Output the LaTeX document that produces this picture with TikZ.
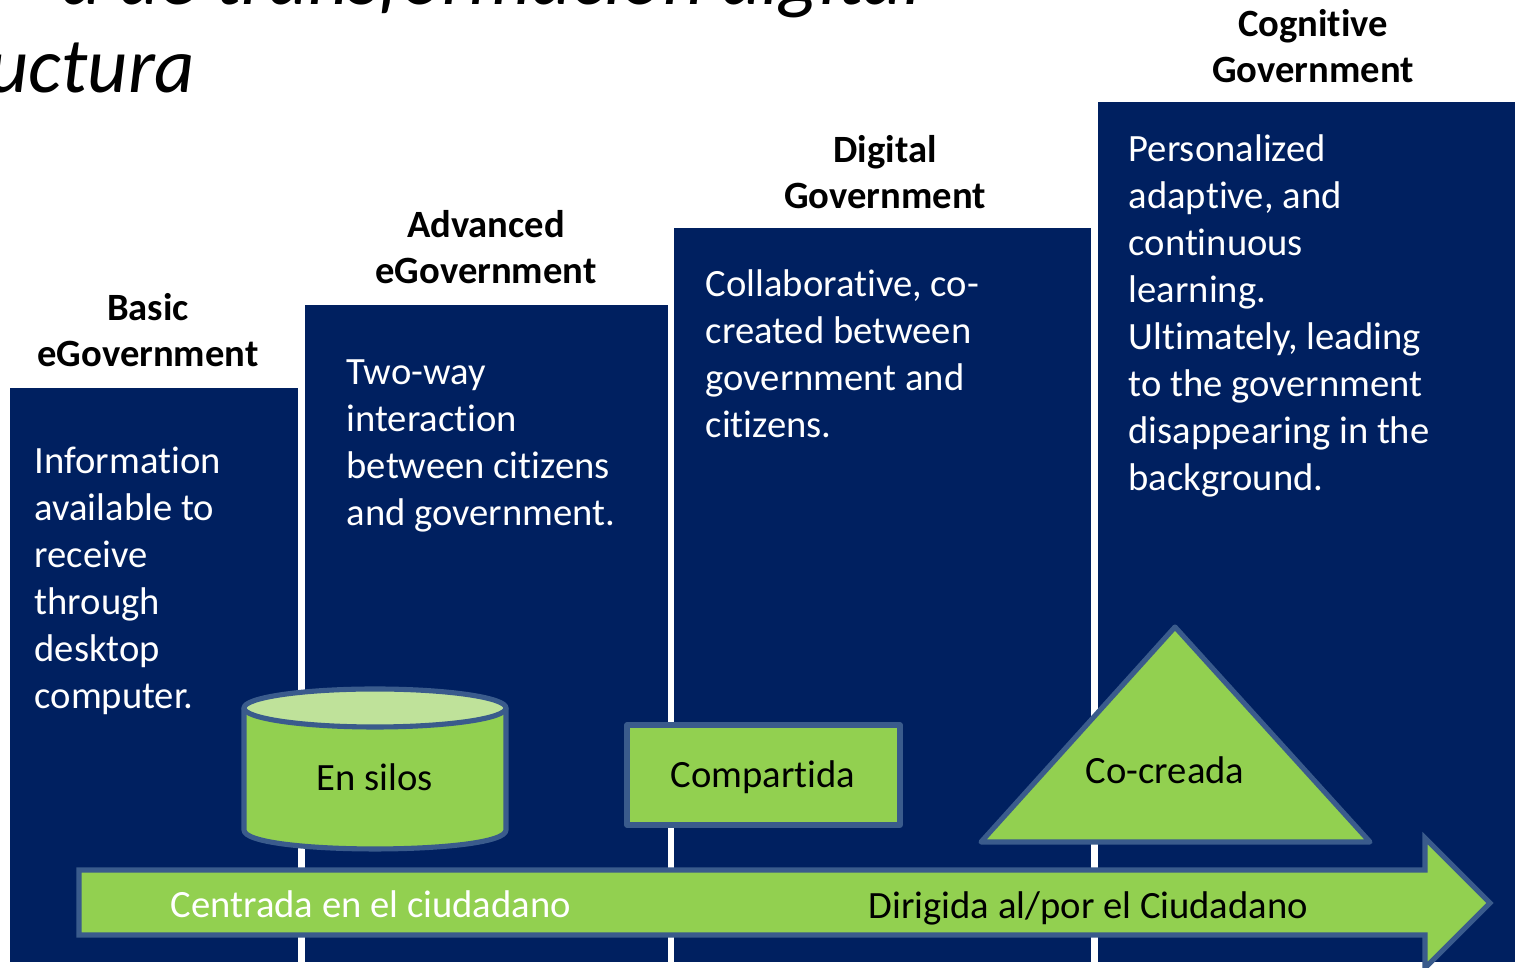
\documentclass[tikz,border=0pt]{standalone}
\usepackage{fontspec}
\setmainfont{Carlito}[Ligatures=NoCommon]
\definecolor{navy}{HTML}{002060}
\definecolor{lgreen}{HTML}{92D050}
\definecolor{pgreen}{HTML}{BFE29A}
\definecolor{edgeblue}{HTML}{3A5B8C}
\tikzset{
  column/.style={fill=navy, draw=none},
  head/.style={inner sep=0pt, align=center, font=\fontsize{10.98}{13.1}\selectfont\bfseries, text=black},
  body/.style={inner sep=0pt, align=left, font=\fontsize{10.98}{13.38}\selectfont, text=white},
  shapelabel/.style={inner sep=0pt, font=\fontsize{10.98}{13.38}\selectfont, text=black},
  greenshape/.style={fill=lgreen, draw=edgeblue, line width=1.45pt, line join=round},
  titletext/.style={inner sep=0pt, font=\fontsize{22.3}{26}\selectfont\itshape, text=black}
}
\begin{document}
\begin{tikzpicture}[x=0.01cm, y=-0.01cm]
\useasboundingbox (0,0) rectangle (1515,968);
\fill[white] (0,0) rectangle (1515,968);
\clip (0,0) rectangle (1515,968);

% title fragments
\node[titletext, anchor=base east] (t1) at (922,5) {a de transformación digital};
\node[titletext, anchor=base east] (t2) at (196,93) {uctura};

% columns
\path[column] (10,388) rectangle (298,962);
\path[column] (305,305) rectangle (668,962);
\path[column] (674,228) rectangle (1091,962);
\path[column] (1098,102) rectangle (1520,962);

% headings (base anchor = baseline of last line)
\node[head, anchor=base] (h1) at (148,367) {Basic\\eGovernment};
\node[head, anchor=base] (h2) at (486,284) {Advanced\\eGovernment};
\node[head, anchor=base] (h3) at (885,209) {Digital\\Government};
\node[head, anchor=base] (h4) at (1313,83) {Cognitive\\Government};

% body texts (base anchor = baseline of last line)
\node[body, anchor=base west] (b1) at (34,709) {Information\\available to\\receive\\through\\desktop\\computer.};
\node[body, anchor=base west] (b2) at (346,526) {Two-way\\interaction\\between citizens\\and government.};
\node[body, anchor=base west] (b3) at (705,438) {Collaborative, co-\\created between\\government and\\citizens.};
\node[body, anchor=base west] (b4) at (1128,491) {Personalized\\adaptive, and\\continuous\\learning.\\Ultimately, leading\\to the government\\disappearing in the\\background.};

% cylinder (En silos)
\path[greenshape] (244,708) -- (244,830) .. controls (244,855.3) and (506,855.3) .. (506,830) -- (506,708) -- cycle;
\path[greenshape, fill=pgreen] (375,708) ellipse [x radius=131, y radius=19];
\node[shapelabel, anchor=base] (silos) at (375,791) {En silos};

% rectangle (Compartida)
\path[greenshape] (627,725) rectangle (900,825);
\node[shapelabel, anchor=base] (comp) at (763,788) {Compartida};

% triangle (Co-creada)
\path[greenshape] (1175,627) -- (1370,842) -- (981,842) -- cycle;
\node[shapelabel, anchor=base] (cocr) at (1165,784) {Co-creada};

% arrow
\path[greenshape, line join=miter] (79,870) -- (1425,870) -- (1425,838) -- (1490,903) -- (1425,968) -- (1425,935) -- (79,935) -- cycle;
\node[shapelabel, text=white, anchor=base west] (a1) at (170,918) {Centrada en el ciudadano};
\node[shapelabel, anchor=base west] (a2) at (868,919) {Dirigida al/por el Ciudadano};
\end{tikzpicture}
\end{document}
